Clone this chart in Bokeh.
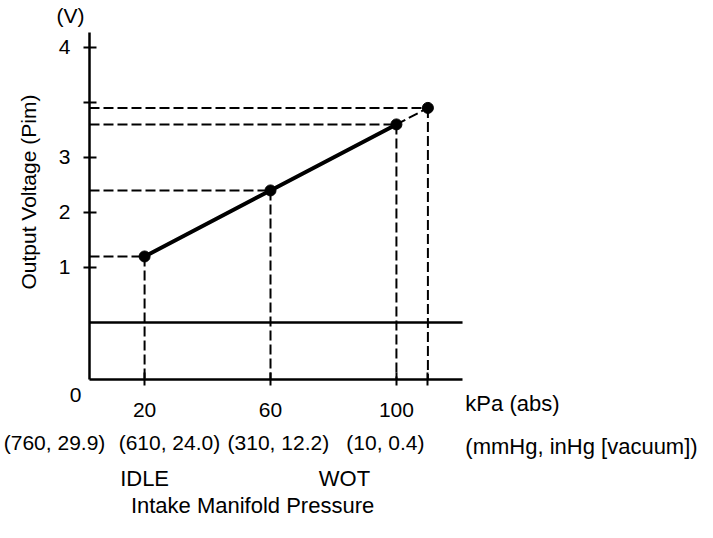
from bokeh.plotting import figure
from bokeh.models import Range1d, FixedTicker
from bokeh.core.properties import value
from bokeh.embed import file_html
from bokeh.resources import INLINE
import math

# ---- data ----
pressure_kpa = [20, 60, 100, 110]
voltage_v = [1.2, 2.4, 3.6, 3.9]
x_ticks = [20, 60, 100, 110]
x_tick_text = ["20", "60", "100", ""]
y_ticks = [1, 2, 3, 4, 5]
y_tick_text = ["1", "2", "3", "", "4"]
vac_labels = ["(760, 29.9)", "(610, 24.0)", "(310, 12.2)", "(10, 0.4)"]
vac_label_x = [-8.6, 27.9, 62.5, 96.5]

FONT = "Liberation Sans"
FS = "21px"

# axis extents (data units)
ax_x0, ax_x1 = 2.5, 121.0
ax_y0, ax_y1 = -1.036, 5.273

p = figure(width=697, height=522,
           x_range=Range1d(-25.77, 195.64), y_range=Range1d(-3.635, 5.852),
           output_backend="svg", toolbar_location=None, min_border=0)
p.outline_line_color = None
p.xgrid.visible = False
p.ygrid.visible = False
p.background_fill_color = "white"
p.border_fill_color = "white"

for ax in (p.xaxis[0], p.yaxis[0]):
    ax.axis_line_width = 2.5
    ax.axis_line_color = "black"
    ax.major_tick_line_width = 2
    ax.major_tick_line_color = "black"
    ax.major_tick_in = 7
    ax.major_tick_out = 6
    ax.minor_tick_line_color = None
    ax.major_label_text_font = FONT
    ax.major_label_text_font_size = FS
    ax.major_label_text_color = "black"

p.xaxis.fixed_location = ax_y0
p.xaxis.bounds = (ax_x0, ax_x1)
p.xaxis.ticker = FixedTicker(ticks=x_ticks)
p.xaxis.major_label_overrides = {t: s for t, s in zip(x_ticks, x_tick_text)}
p.xaxis.major_label_standoff = 18

p.yaxis.fixed_location = ax_x0
p.yaxis.bounds = (ax_y0, ax_y1)
p.yaxis.ticker = FixedTicker(ticks=y_ticks)
p.yaxis.major_label_overrides = {t: s for t, s in zip(y_ticks, y_tick_text)}
p.yaxis.major_label_standoff = 13

# zero-volt baseline
p.segment(x0=[ax_x0], y0=[0], x1=[ax_x1], y1=[0], line_color="black", line_width=2.5)

# dashed guide lines
p.segment(x0=[ax_x0] * len(pressure_kpa), y0=voltage_v, x1=pressure_kpa, y1=voltage_v,
          line_color="black", line_width=2, line_dash="10 4")
p.segment(x0=pressure_kpa, y0=voltage_v, x1=pressure_kpa, y1=[ax_y0] * len(pressure_kpa),
          line_color="black", line_width=2, line_dash="10 4")

# characteristic line
p.line(pressure_kpa[:3], voltage_v[:3], line_color="black", line_width=4)
p.line(pressure_kpa[2:], voltage_v[2:], line_color="black", line_width=2, line_dash="10 4")
p.scatter(pressure_kpa, voltage_v, size=11, color="black")


def lab(x, y, text, align="center", angle=0.0, size=FS):
    p.text(x=[x], y=[y], text=[text], text_font=value(FONT), text_font_size=size,
           text_color="black", text_align=align, text_baseline="middle", angle=angle)


lab(-3.5, 5.58, "(V)")
lab(-16.9, 2.37, "Output Voltage (Pim)", angle=math.pi / 2)
lab(-1.95, -1.31, "0")
for t, xx in zip(vac_labels, vac_label_x):
    lab(xx, -2.18, t)
lab(20, -2.84, "IDLE", size="22px")
lab(83.5, -2.84, "WOT", size="22px")
lab(54.3, -3.32, "Intake Manifold Pressure", size="22px")
lab(121.9, -1.47, "kPa (abs)", align="left", size="22px")
lab(121.9, -2.25, "(mmHg, inHg [vacuum])", align="left", size="22px")

open("out.html", "w").write(file_html(p, INLINE))
